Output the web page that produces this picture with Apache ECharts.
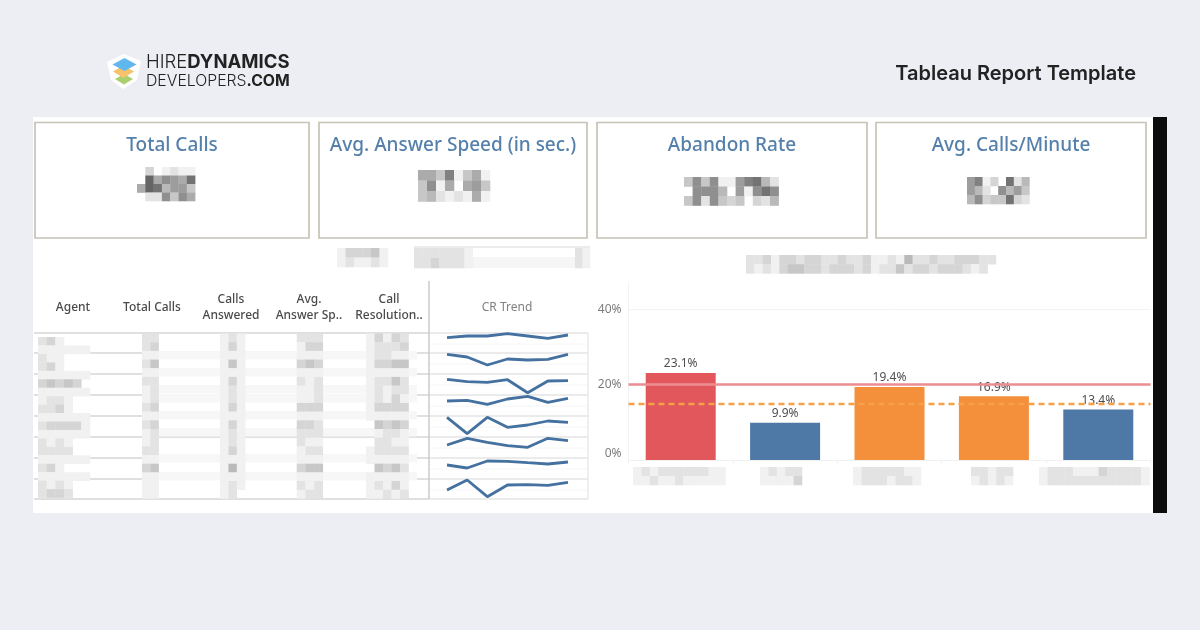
<!DOCTYPE html>
<html>
<head>
<meta charset="utf-8">
<title>Tableau Report Template</title>
<script src="https://cdn.jsdelivr.net/npm/echarts@6/dist/echarts.min.js"></script>
<style>
  html, body { margin: 0; padding: 0; width: 1200px; height: 630px; background: #eceef3; overflow: hidden; }
  #panel { position: absolute; left: 33px; top: 117px; width: 1120px; height: 396px; background: #ffffff; }
  #strip { position: absolute; left: 1153px; top: 117px; width: 14px; height: 396px; background: #0c0c0c; }
  #head, #dash { position: absolute; left: 0; top: 0; width: 1200px; height: 630px; }
  #dash { filter: blur(0.6px); }
</style>
</head>
<body>
<div id="panel"></div>
<div id="strip"></div>
<div id="head"></div>
<div id="dash"></div>
<script>
// bar chart values
const barCategories = ['A', 'B', 'C', 'D', 'E'];
const barValues = [23.1, 9.9, 19.4, 16.9, 13.4];
const redLine = 20;
const orangeLine = 14.9;
const yTicks = [0, 20, 40];

// CR trend, one list per agent row
const trendPeriods = ['1', '2', '3', '4', '5', '6', '7'];
const crRow1 = [32.6, 36, 36, 40.6, 36, 31.4, 38];
const crRow2 = [41.4, 36, 20, 32, 30, 31.4, 41.4];
const crRow3 = [33.4, 28.6, 27.4, 32.6, 6.6, 30, 30.6];
const crRow4 = [32, 33.4, 25.4, 36, 41.4, 29.4, 37.4];
const crRow5 = [41.4, 8.6, 41.4, 21.4, 26, 34, 31.4];
const crRow6 = [28, 41.4, 33.4, 26.6, 23.4, 41.4, 36.6];
const crRow7 = [30, 24, 38, 37.4, 34.6, 32, 36];
const crRow8 = [22, 42, 8.6, 32, 32.6, 31.4, 37.4];
const crRows = [crRow1, crRow2, crRow3, crRow4, crRow5, crRow6, crRow7, crRow8];

const kpiTitles = ['Total Calls', 'Avg. Answer Speed (in sec.)', 'Abandon Rate', 'Avg. Calls/Minute'];
const tableHeaders = ['Agent', 'Total Calls', 'Calls\nAnswered', 'Avg.\nAnswer Sp..', 'Call\nResolution..'];

// redacted text, one hex digit per mosaic cell (0 = white, higher = darker)
const kpiMosaic1 = ['0301211', '0b6876a', '6ba5774', '0228486'];
const kpiMosaic2 = ['66491461', '48160674', '45212161'];
const kpiMosaic3 = ['48481179a52', '088850718a8', '48284340325'];
const kpiMosaic4 = ['79130a25', '75208574', '58344a32'];
const filterMosaic = ['133341', '121121'];
const searchMosaic = ['2222221', '2232221'];
const titleMosaic = ['223133233223223112152232233322', '21213443323332312242332333212'];
const xMosaics = [
  ['12122222211', '11211211111'],
  ['12122', '11113'],
  ['12222211', '12221221'],
  ['22122', '12121'],
  ['1222111322221', '1222222222221']
];
const agentMosaic = ['231', '111111', '211', '231', '111111', '34343', '111111', '1221', '2231', '111111',
  '233331', '111111', '2121', '2222', '111111', '231', '111111', '2121', '2332'];
const totalMosaic = ['22', '23', '11', '24', '11', '22', '12', '12', '23', '11', '23', '12', '12', '22', '11', '34', '11', '11', '11'];
const answeredMosaic = ['121', '131', '111', '141', '111', '131', '121', '121', '131', '111', '131', '121', '121', '131', '111', '151', '111', '121', '120'];
const speedMosaic = ['222', '133', '111', '343', '111', '212', '112', '112', '333', '111', '332', '222', '211', '122', '111', '344', '111', '212', '122'];
const resolutionMosaic = ['13132', '12223', '12211', '13344', '11111', '12242', '12122', '12131', '13333', '11111', '04343', '01221', '02211', '12222', '11111', '04342', '11111', '12131', '11212'];

function barColor(v) {
  if (v >= redLine) return '#e1575b';
  if (v >= orangeLine) return '#f48f3b';
  return '#4e79a7';
}

function mosaic(x, y, cw, ch, rows, z) {
  const out = [];
  rows.forEach((row, r) => {
    row.split('').forEach((c, i) => {
      const g = 255 - parseInt(c, 16) * 14;
      if (g === 255) return;
      out.push({
        type: 'rect', z: z || 1, silent: true,
        shape: { x: x + i * cw, y: y + r * ch, width: cw + 0.3, height: ch + 0.3 },
        style: { fill: `rgb(${g},${g},${g})` }
      });
    });
  });
  return out;
}

function line(x1, y1, x2, y2, color, width) {
  return { type: 'line', z: 0, silent: true, shape: { x1, y1, x2, y2 }, style: { stroke: color, lineWidth: width } };
}

function label(text, x, y, size, color, extra) {
  return {
    type: 'text', z: 3, silent: true, x, y,
    style: Object.assign({ text, fontFamily: 'Noto Sans', fontSize: size, fill: color, align: 'center', verticalAlign: 'middle', lineHeight: 16 }, extra || {})
  };
}

// header: logo and report title
const head = echarts.init(document.getElementById('head'));
head.setOption({
  animation: false,
  graphic: { elements: [
    { type: 'polygon', shape: { points: [[124, 54], [141, 61], [137, 80], [123, 89], [111, 80], [107, 62]] }, style: { fill: '#ffffff' } },
    { type: 'polygon', z: 1, shape: { points: [[115, 79], [124, 74], [133, 79], [124, 84.5]] }, style: { fill: '#a9cf6f' } },
    { type: 'polygon', z: 2, shape: { points: [[113, 71.5], [123.5, 65.5], [134, 71.5], [123.5, 78]] }, style: { fill: '#f6c26b' } },
    { type: 'polygon', z: 3, shape: { points: [[112.5, 64.5], [124.5, 58], [136.5, 64.5], [124.5, 71]] }, style: { fill: '#5fb7ee' } },
    { type: 'text', x: 146, y: 62, style: {
      text: '{l|HIRE}{b|DYNAMICS}', verticalAlign: 'middle',
      rich: {
        l: { fontFamily: 'Inter', fontSize: 18.5, fontWeight: 300, fill: '#222222' },
        b: { fontFamily: 'Inter', fontSize: 18.5, fontWeight: 700, fill: '#222222' }
      }
    } },
    { type: 'text', x: 146, y: 81, style: {
      text: '{l|DEVELOPERS}{b|.COM}', verticalAlign: 'middle',
      rich: {
        l: { fontFamily: 'Inter', fontSize: 15.8, fontWeight: 300, fill: '#222222' },
        b: { fontFamily: 'Inter', fontSize: 15.8, fontWeight: 700, fill: '#222222' }
      }
    } },
    { type: 'text', x: 1136, y: 74, style: { text: 'Tableau Report Template', align: 'right', verticalAlign: 'middle', fontFamily: 'Inter', fontSize: 20, fontWeight: 600, fill: '#222222' } }
  ] }
});

// dashboard layout
const kpiBoxes = [[35, 274], [319, 268], [597, 270], [876, 270]];
const rowLineYs = [333, 353, 374, 395, 416, 437, 458, 479, 499];
const headerXs = [73, 152, 231, 309, 389];
const xMosaicPos = [[633, 8.4], [760, 8.4], [853, 8.5], [971, 8.4], [1039, 8.5]];

const elements = [];
kpiBoxes.forEach((b, i) => {
  elements.push({ type: 'rect', z: 1, silent: true, shape: { x: b[0], y: 122.5, width: b[1], height: 115.5 }, style: { fill: 'none', stroke: '#c6c4b6', lineWidth: 1.7 } });
  elements.push(label(kpiTitles[i], b[0] + b[1] / 2, 145.5, 19, '#5580ab', { fontWeight: 500 }));
});
elements.push(...mosaic(137, 167, 8.3, 8.5, kpiMosaic1));
elements.push(...mosaic(418, 170, 9, 10.5, kpiMosaic2));
elements.push(...mosaic(684, 177, 8.6, 9.5, kpiMosaic3));
elements.push(...mosaic(967, 177, 7.8, 9, kpiMosaic4));

// filter controls and chart title
elements.push(...mosaic(337, 248, 8.5, 9.5, filterMosaic));
elements.push({ type: 'rect', z: 0, silent: true, shape: { x: 414, y: 257, width: 176, height: 11 }, style: { fill: '#f6f6f6' } });
elements.push(line(414, 247, 590, 247, '#d8d8d8', 1));
elements.push(...mosaic(414, 248, 8.4, 10, searchMosaic));
elements.push(...mosaic(575, 248, 7.5, 10, ['21', '21']));
elements.push(...mosaic(746, 255, 8.33, 9.2, titleMosaic));

// table
tableHeaders.forEach((h, i) => elements.push(label(h, headerXs[i], 308, 12, '#4a4a4a', { fontWeight: 500 })));
elements.push(label('CR Trend', 507, 308, 12, '#808080'));
rowLineYs.forEach(y => {
  elements.push(line(34, y, 429, y, '#d6d6d6', 1.6));
  elements.push(line(429, y, 588, y, '#e4e4e4', 1.6));
});
rowLineYs.slice(0, 8).forEach(y => elements.push(line(429, y + 11, 588, y + 11, '#f6f6f6', 1)));
elements.push(line(429, 281, 429, 499, '#c8c8c8', 1.4));
elements.push(line(588, 333, 588, 499, '#e8e8e8', 1.4));
elements.push(...mosaic(38, 337, 8.67, 8.45, agentMosaic));
[351, 368, 385, 394, 411, 428, 454, 472].forEach(y => elements.push({ type: 'rect', z: 0, silent: true, shape: { x: 142, y, width: 275, height: 8.5 }, style: { fill: '#f7f7f7' } }));
elements.push(...mosaic(142, 333.5, 8.3, 8.68, totalMosaic));
elements.push(...mosaic(220, 333.5, 8.4, 8.68, answeredMosaic));
elements.push(...mosaic(296.7, 333.5, 8.7, 8.68, speedMosaic));
elements.push(...mosaic(366, 333.5, 8.5, 8.68, resolutionMosaic));
xMosaics.forEach((m, i) => elements.push(...mosaic(xMosaicPos[i][0], 467, xMosaicPos[i][1], 9, m)));

// one grid for the bars, then one small grid per agent row
const grids = [{ left: 628.5, top: 283, width: 522, height: 177 }];
const xAxes = [{
  type: 'category', gridIndex: 0, data: barCategories,
  axisLine: { lineStyle: { color: '#f0f0f0' } },
  axisTick: { show: true, length: 3, lineStyle: { color: '#f0f0f0' } },
  axisLabel: { show: false }
}];
const yAxes = [{
  type: 'value', gridIndex: 0, min: 0, max: 47, interval: 20,
  axisLine: { show: true, lineStyle: { color: '#f2f2f2' } },
  axisTick: { show: false },
  splitLine: { show: true, showMaxLine: false, lineStyle: { color: '#f3f3f3' } },
  axisLabel: {
    margin: 7, color: '#7c7c7c', fontFamily: 'Noto Sans', fontSize: 12,
    verticalAlignMinLabel: 'bottom',
    formatter: v => yTicks.includes(v) ? v + '%' : ''
  }
}];
const series = [{
  type: 'bar', xAxisIndex: 0, yAxisIndex: 0, data: barValues, barWidth: 70, z: 2,
  itemStyle: { color: p => barColor(p.value) },
  label: { show: true, position: 'top', distance: 3, color: '#4f4f4f', fontFamily: 'Noto Sans', fontSize: 12, formatter: p => p.value.toFixed(1) + '%' },
  markLine: {
    silent: true, symbol: 'none', z: 3, label: { show: false },
    data: [
      { yAxis: redLine, lineStyle: { color: '#ec8d92', type: 'solid', width: 2.6 } },
      { yAxis: orangeLine, lineStyle: { color: '#f6a048', type: [6, 4], width: 2.4 } }
    ]
  }
}];
crRows.forEach((row, i) => {
  const idx = i + 1;
  grids.push({ left: 447, width: 121, top: 333 + 21 * i, height: 21 });
  xAxes.push({ type: 'category', gridIndex: idx, data: trendPeriods, boundaryGap: false, show: false });
  yAxes.push({ type: 'value', gridIndex: idx, min: 0, max: 42, show: false });
  series.push({
    type: 'line', xAxisIndex: idx, yAxisIndex: idx, data: row, showSymbol: false, clip: false,
    lineStyle: { color: '#44719f', width: 2.8 }
  });
});

const dash = echarts.init(document.getElementById('dash'));
dash.setOption({
  animation: false,
  grid: grids,
  xAxis: xAxes,
  yAxis: yAxes,
  series: series,
  graphic: { elements: elements }
});
</script>
</body>
</html>
